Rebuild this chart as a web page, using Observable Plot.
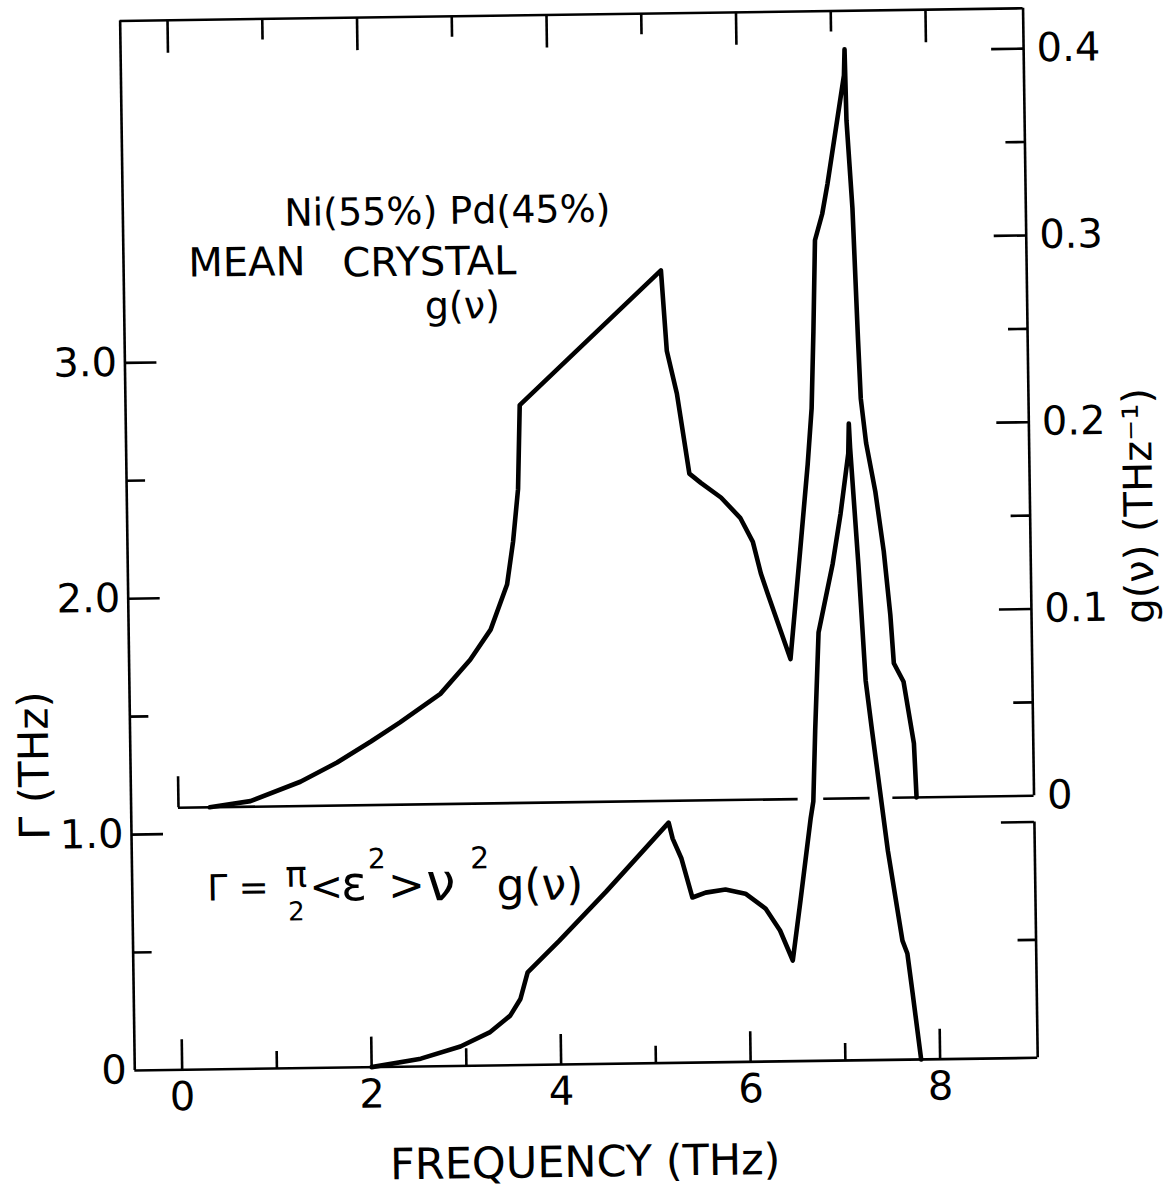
<!DOCTYPE html>
<html>
<head>
<meta charset="utf-8">
<script src="https://cdn.jsdelivr.net/npm/d3@7"></script>
<script src="https://cdn.jsdelivr.net/npm/@observablehq/plot@0.6"></script>
<style>
  html, body { margin: 0; padding: 0; background: #fff; overflow: hidden; }
  #chart svg { display: block; overflow: visible; transform-origin: 584px 545px; transform: rotate(-0.8deg); }
</style>
</head>
<body>
<div id="chart"></div>
<script>
// Mean-crystal phonon density of states g(ν) of Ni(55%)Pd(45%) (upper curve, right axis)
// and the scattering rate Γ = (π/2)<ε²>ν²g(ν) (lower curve, left axis) against frequency.

// g(ν), THz⁻¹
const gNu  = [0.33, 0.76, 1.29, 1.68, 2.04, 2.35, 2.78, 3.10, 3.32, 3.50, 3.57, 3.63, 3.66,
              5.17, 5.22, 5.32, 5.39, 5.44, 5.56, 5.77, 5.97, 6.10, 6.18, 6.25, 6.48,
              6.60, 6.69, 6.74, 6.77, 6.80, 6.88, 6.94, 7.13, 7.14, 7.15, 7.20, 7.24, 7.26,
              7.31, 7.40, 7.48, 7.54, 7.57, 7.67, 7.77, 7.79];
const gVal = [0, 0.003, 0.013, 0.023, 0.034, 0.044, 0.059, 0.077, 0.093, 0.117, 0.140, 0.168, 0.213,
              0.284, 0.241, 0.218, 0.193, 0.175, 0.170, 0.162, 0.151, 0.138, 0.121, 0.110, 0.075,
              0.134, 0.179, 0.209, 0.250, 0.299, 0.313, 0.329, 0.387, 0.401, 0.363, 0.316, 0.245, 0.214,
              0.190, 0.164, 0.132, 0.098, 0.072, 0.062, 0.029, 0];

// Γ(ν), THz
const gammaNu  = [2.00, 2.52, 2.94, 3.25, 3.47, 3.58, 3.66, 4.00, 4.50, 5.17, 5.21, 5.30, 5.41,
                  5.55, 5.76, 5.97, 6.18, 6.33, 6.46, 6.55, 6.67, 6.70, 6.73, 6.78, 6.94, 7.03,
                  7.12, 7.13, 7.14, 7.21, 7.27, 7.33, 7.48, 7.62, 7.67, 7.72, 7.80];
const gammaVal = [0, 0.033, 0.082, 0.140, 0.210, 0.280, 0.392, 0.525, 0.730, 1.019, 0.951, 0.866, 0.700,
                  0.720, 0.732, 0.713, 0.649, 0.555, 0.427, 0.681, 1.030, 1.100, 1.400, 1.816, 2.108, 2.319,
                  2.573, 2.700, 2.598, 2.106, 1.610, 1.397, 0.885, 0.505, 0.450, 0.280, 0];

// axis ticks and labels
const freqTicks = [0, 2, 4, 6, 8];
const freqTickLabels = ["0", "2", "4", "6", "8"];
const freqTicksMinor = [1, 3, 5, 7];
const gammaTicks = [0, 1, 2, 3];
const gammaTickLabels = ["0", "1.0", "2.0", "3.0"];
const gammaTicksMinor = [0.5, 1.5, 2.5];
const gTicks = [0, 0.1, 0.2, 0.3, 0.4];
const gTickLabels = ["0", "0.1", "0.2", "0.3", "0.4"];
const gTicksMinor = [0.05, 0.15, 0.25, 0.35];
// breaks in the g(ν)=0 baseline where the Γ curve crosses it
const baseSegments = [[0, 6.54], [6.81, 7.30], [7.54, 9.03]];

// g(ν) is drawn on the Γ scale: zero at G0, GK Γ-units per THz⁻¹
const G0 = 1.111, GK = 7.92;
const toG = g => G0 + GK * g;

const X0 = -0.5, X1 = 9.03, YTOP = 4.45;
const W = 1167, H = 1191;
const mL = 127, mR = 137, mT = 14, mB = 127.4;
const frameW = W - mL - mR, frameH = H - mT - mB;
const pxY = YTOP / frameH;

const gData = gNu.map((nu, i) => ({nu, v: gVal[i]}));
const gammaData = gammaNu.map((nu, i) => ({nu, v: gammaVal[i]}));

const ink = {stroke: "black", strokeWidth: 2.6};
const curve = {stroke: "black", strokeWidth: 4.6, strokeLinejoin: "round", strokeLinecap: "round"};
const label = (str, x, y, opts = {}) =>
  Plot.text([str], {x, y, text: d => d, fill: "black", textAnchor: "start", lineAnchor: "bottom", fontSize: 40, ...opts});

const chart = Plot.plot({
  width: W,
  height: H,
  marginLeft: mL, marginRight: mR, marginTop: mT, marginBottom: mB,
  style: {fontFamily: "DejaVu Sans", fontSize: "40px", background: "white", color: "black"},
  x: {domain: [X0, X1]},
  y: {domain: [0, YTOP]},
  marks: [
    // frame
    Plot.ruleX([X0], {y1: 0, y2: YTOP, ...ink}),
    Plot.ruleY([YTOP], {x1: X0, x2: X1, ...ink}),
    Plot.ruleY([0], {x1: X0, x2: X1, ...ink}),
    Plot.ruleX([X1], {y1: toG(0), y2: YTOP, ...ink}),
    Plot.ruleX([X1], {y1: 0, y2: 1.0, ...ink}),
    Plot.ruleY(baseSegments, {y: () => toG(0), x1: d => d[0], x2: d => d[1], ...ink}),
    Plot.ruleX([0], {y1: toG(0), y2: toG(0) + 31 * pxY, ...ink}),

    // inward ticks
    Plot.tickX(freqTicks, {x: d => d, insetTop: frameH - 30, ...ink}),
    Plot.tickX(freqTicksMinor, {x: d => d, insetTop: frameH - 17, ...ink}),
    Plot.tickX(freqTicks, {x: d => d, insetBottom: frameH - 33, ...ink}),
    Plot.tickX(freqTicksMinor, {x: d => d, insetBottom: frameH - 21, ...ink}),
    Plot.tickY(gammaTicks.slice(1), {y: d => d, insetRight: frameW - 32, ...ink}),
    Plot.tickY(gammaTicksMinor, {y: d => d, insetRight: frameW - 19, ...ink}),
    Plot.tickY(gTicks.slice(1), {y: toG, insetLeft: frameW - 32, ...ink}),
    Plot.tickY(gTicksMinor, {y: toG, insetLeft: frameW - 19, ...ink}),
    Plot.tickY([1.0], {y: d => d, insetLeft: frameW - 33, ...ink}),
    Plot.tickY([0.5], {y: d => d, insetLeft: frameW - 18, ...ink}),

    // tick labels
    Plot.axisX(freqTicks, {anchor: "bottom", tickSize: 0, tickPadding: 12, label: null,
      tickFormat: d => freqTickLabels[freqTicks.indexOf(d)], fontSize: 40}),
    Plot.axisY(gammaTicks, {anchor: "left", tickSize: 0, tickPadding: 8, label: null,
      tickFormat: d => gammaTickLabels[gammaTicks.indexOf(d)], fontSize: 40}),
    Plot.text(gTicks, {x: () => X1, y: toG, text: (d, i) => gTickLabels[i], textAnchor: "start",
      dx: 13, fill: "black", fontSize: 40}),

    // curves
    Plot.line(gData, {x: "nu", y: d => toG(d.v), ...curve}),
    Plot.line(gammaData, {x: "nu", y: "v", ...curve}),

    // axis titles
    label("FREQUENCY (THz)", 4.24, -0.477, {textAnchor: "middle", fontSize: 43}),
    label("Γ (THz)", -1.367, 1.298, {textAnchor: "middle", rotate: -90, fontSize: 42}),
    label("g(ν) (THz⁻¹)", 10.32, 2.334, {textAnchor: "middle", rotate: -90, fontSize: 40}),

    // annotations
    label("Ni(55%) Pd(45%)", 2.925, 3.571, {textAnchor: "middle", fontSize: 38}),
    label("MEAN", 0.184, 3.362),
    label("CRYSTAL", 1.809, 3.353),
    label("g(ν)", 3.069, 3.168, {textAnchor: "middle", fontSize: 38}),

    // Γ = (π/2)<ε²>ν²g(ν)
    label("Γ =", 0.291, 0.716, {fontSize: 36}),
    label("π", 1.233, 0.770, {textAnchor: "middle", fontSize: 36}),
    label("2", 1.228, 0.626, {textAnchor: "middle", fontSize: 26}),
    label("<", 1.370, 0.710, {fontSize: 40}),
    label("ε", 1.705, 0.708, {fontSize: 48}),
    label("2", 1.990, 0.842, {fontSize: 28}),
    label(">", 2.200, 0.706, {fontSize: 44}),
    label("ν", 2.604, 0.703, {fontSize: 52}),
    label("2", 3.069, 0.836, {fontSize: 30}),
    label("g(ν)", 3.344, 0.699, {fontSize: 44})
  ]
});

document.getElementById("chart").appendChild(chart);
</script>
</body>
</html>
